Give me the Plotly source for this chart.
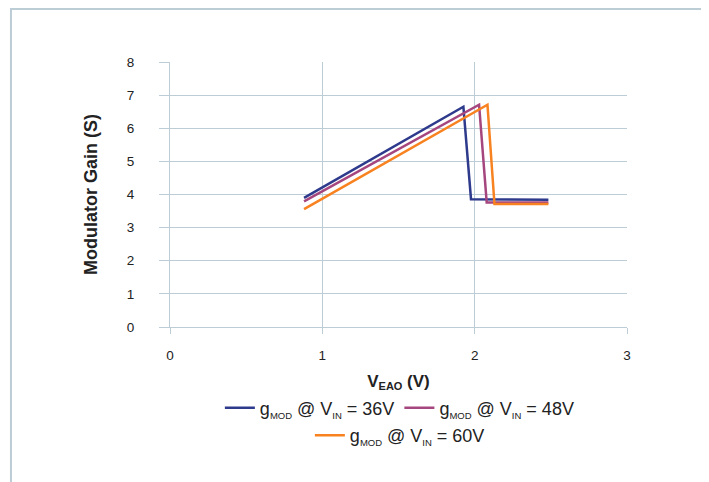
import plotly.graph_objects as go

SUB = '<sub><span style="font-size:9.5px">{}</span></sub>'
series_names = [
    "g" + SUB.format("MOD") + " @ V" + SUB.format("IN") + " = 36V",
    "g" + SUB.format("MOD") + " @ V" + SUB.format("IN") + " = 48V",
    "g" + SUB.format("MOD") + " @ V" + SUB.format("IN") + " = 60V",
]
x_36 = [0.88, 1.926, 1.976, 2.484]
y_36 = [3.90, 6.65, 3.86, 3.84]
x_48 = [0.88, 2.029, 2.079, 2.484]
y_48 = [3.79, 6.71, 3.76, 3.76]
x_60 = [0.88, 2.084, 2.130, 2.484]
y_60 = [3.56, 6.71, 3.71, 3.71]
colors = ["#2e3a8c", "#a5467f", "#f7821f"]
legends = ["legend", "legend", "legend2"]

fig = go.Figure()
for name, xs, ys, c, lg in zip(series_names, [x_36, x_48, x_60], [y_36, y_48, y_60], colors, legends):
    fig.add_trace(go.Scatter(x=xs, y=ys, mode="lines", name=name, legend=lg,
                             line=dict(color=c, width=2.5)))

grid = "#bccdd5"
font = "Liberation Sans, Arial, sans-serif"
leg_common = dict(orientation="h", xanchor="center", yanchor="middle",
                  font=dict(size=18, color="#222"), bgcolor="rgba(0,0,0,0)")
fig.update_layout(
    width=709, height=482,
    margin=dict(l=162, r=90, t=54, b=163),
    plot_bgcolor="white", paper_bgcolor="white",
    font=dict(family=font, size=13, color="#222"),
    showlegend=True,
    legend=dict(x=0.503, y=-0.306, **leg_common),
    legend2=dict(x=0.503, y=-0.41, **leg_common),
    xaxis=dict(range=[0, 3], dtick=1, showgrid=True, gridcolor=grid, gridwidth=1,
               showline=True, linecolor=grid, ticks="outside", tickcolor=grid, ticklen=6,
               ticklabelstandoff=10, tickfont=dict(size=13.5),
               zeroline=False, fixedrange=True,
               title=dict(text='<b>V<sub><span style="font-size:11px">EAO</span></sub> (V)</b>',
                          font=dict(size=17), standoff=12)),
    yaxis=dict(range=[0, 8], dtick=1, showgrid=True, gridcolor=grid, gridwidth=1,
               showline=True, linecolor=grid, ticks="outside", tickcolor=grid, ticklen=10,
               ticklabelstandoff=22, tickfont=dict(size=13.5),
               zeroline=False, fixedrange=True,
               title=dict(text="<b>Modulator Gain (S)</b>", font=dict(size=18), standoff=24)),
    shapes=[dict(type="rect", xref="paper", yref="paper", x0=-0.348, x1=1.17, y0=-0.62, y1=1.2,
                 line=dict(color="#bccdd5", width=2), layer="below")],
)
fig.write_html("out.html")
